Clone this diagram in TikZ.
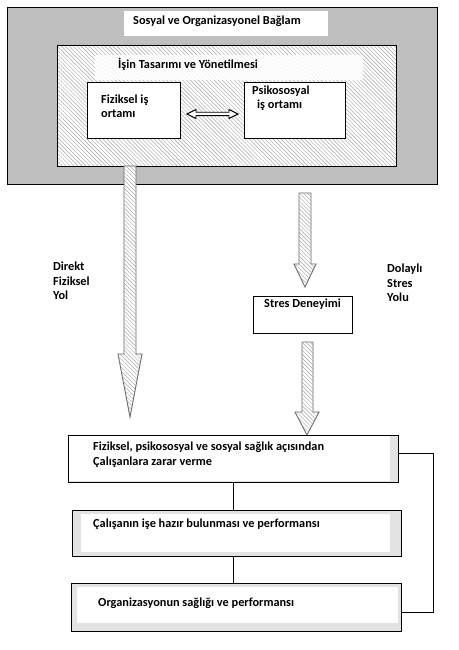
\documentclass[tikz,border=0pt]{standalone}
\usepackage{fontspec}
\setmainfont{Carlito}
\usetikzlibrary{patterns.meta}

\tikzset{
  hatch/.style={pattern={Lines[angle=-45,distance=2.8pt,line width=0.45pt]}, pattern color=gray!70},
  frame/.style={draw=black, line width=0.8pt, inner sep=0pt, outer sep=0pt},
  whitebox/.style={frame, fill=white},
  plainfill/.style={draw=none, inner sep=0pt, outer sep=0pt},
  txt/.style={font=\bfseries\fontsize{12.3}{14.5}\selectfont, anchor=west, inner sep=0pt, align=left},
  blockarrow/.style={draw=gray!80!black, line width=0.9pt, fill=white, postaction={hatch}},
  link/.style={draw=black, line width=0.7pt}
}

\begin{document}
\begin{tikzpicture}[x=1pt,y=-1pt]
  \useasboundingbox (0,0) rectangle (458,650);

  % context frame
  \node[frame, fill=gray!50, minimum width=430pt, minimum height=177pt](ctx) at (222,95.5){};
  \node[plainfill, fill=white, minimum width=204pt, minimum height=25pt](ctxtitle) at (226,23.5){};
  \node[txt] at (133,21){Sosyal ve Organizasyonel Bağlam};

  % work design frame
  \node[whitebox, minimum width=339pt, minimum height=121pt](work) at (226.5,105.5){};
  \fill[hatch] (work.north west) rectangle (work.south east);
  \draw[line width=0.8pt] (work.north west) rectangle (work.south east);
  \node[plainfill, fill=white, fill opacity=0.85, minimum width=268pt, minimum height=25pt](worktitle) at (229,67.5){};
  \node[txt] at (118,64){İşin Tasarımı ve Yönetilmesi};

  \node[whitebox, minimum width=93pt, minimum height=56pt](phys) at (133.5,110){};
  \node[txt] at (101,106){Fiziksel iş\\ortamı};
  \node[whitebox, minimum width=101pt, minimum height=56pt](psy) at (294.5,110){};
  \node[txt] at (252,98){Psikososyal\\\hspace*{5pt}iş ortamı};

  % two way link
  \draw[line width=0.9pt, fill=white] (187,114) -- (196,109.5) -- (196,112.3) -- (229,112.3) -- (229,109.5)
    -- (238,114) -- (229,118.5) -- (229,115.7) -- (196,115.7) -- (196,118.5) -- cycle;

  % direct physical path
  \draw[blockarrow] (124,166) -- (136,166) -- (136,354) -- (142,354) -- (130,417) -- (118,354) -- (124,354) -- cycle;
  \node[txt] at (53,281){Direkt\\Fiziksel\\Yol};

  % indirect stress path
  \node[whitebox, minimum width=99pt, minimum height=37pt](stress) at (302.5,314.5){};
  \node[txt] at (264,304){Stres Deneyimi};
  \draw[blockarrow] (299,193) -- (311,193) -- (311,264) -- (316,264) -- (305,287) -- (294,264) -- (299,264) -- cycle;
  \draw[blockarrow] (302,342) -- (313,342) -- (313,412) -- (319,412) -- (307,435) -- (295,412) -- (302,412) -- cycle;
  \node[txt] at (387,283){Dolaylı\\Stres\\Yolu};

  % outcomes
  \node[frame, fill=gray!22, minimum width=330pt, minimum height=47pt](harm) at (233,458.5){};
  \fill[white] (69,436) rectangle (390,481);
  \draw[line width=0.8pt] (harm.north west) rectangle (harm.south east);
  \node[txt] at (93,454.5){Fiziksel, psikososyal ve sosyal sağlık açısından\\Çalışanlara zarar verme};

  \node[frame, fill=gray!22, minimum width=329pt, minimum height=46pt](ready) at (236.5,533){};
  \fill[white] (81,514) rectangle (390,552);
  \draw[line width=0.8pt] (ready.north west) rectangle (ready.south east);
  \node[txt] at (93,524){Çalışanın işe hazır bulunması ve performansı};

  \node[frame, fill=gray!22, minimum width=330pt, minimum height=48pt](org) at (236,607){};
  \fill[white] (77,587) rectangle (398,623);
  \draw[line width=0.8pt] (org.north west) rectangle (org.south east);
  \node[txt] at (98,603){Organizasyonun sağlığı ve performansı};

  \draw[link] (harm.south -| 233,0) -- (ready.north -| 233,0);
  \draw[link] (ready.south -| 233,0) -- (org.north -| 233,0);
  \draw[link] (harm.east |- 0,453) -- (433,453) -- (433,612) -- (org.east |- 0,612);
\end{tikzpicture}
\end{document}
